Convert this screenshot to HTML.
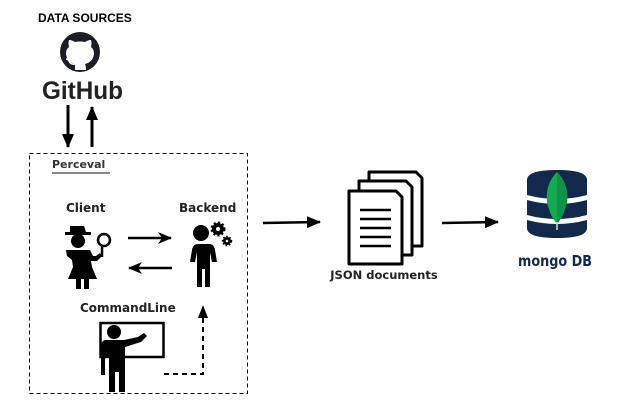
<!DOCTYPE html>
<html><head><meta charset="utf-8"><style>
html,body{margin:0;padding:0;background:#fff;}
svg{display:block;}
</style></head><body>
<svg width="637" height="407" viewBox="0 0 637 407" xmlns="http://www.w3.org/2000/svg">
<defs>
<marker id="ah" markerWidth="14" markerHeight="12" refX="13" refY="6" orient="auto" markerUnits="userSpaceOnUse">
<path d="M0,0 L14,6 L0,12 L4,6 Z" fill="#000"/></marker>
<marker id="ah2" markerWidth="14" markerHeight="12" refX="13" refY="6" orient="auto" markerUnits="userSpaceOnUse">
<path d="M0,0 L14,6 L0,12 Z" fill="#000"/></marker>
</defs>
<text x="38" y="22" font-family="Liberation Sans, sans-serif" font-weight="bold" font-size="12">DATA SOURCES</text>
<!-- octocat -->
<circle cx="80" cy="52" r="20" fill="#1b1f23"/>
<path d="M75,70 v-6 q-8,-2 -9,-10 q0,-5 3,-7 q-1,-4 0,-7 q3,0 6,2 q5,-1 10,0 q3,-2 6,-2 q1,3 0,7 q3,2 3,7 q-1,8 -9,10 q1,2 1,6 Z" fill="#fff"/>
<path d="M75,64 q-4,1 -6,-3 q-1,-2 -3,-2" stroke="#fff" stroke-width="1.6" fill="none"/>
<text x="42" y="99" font-family="Liberation Sans, sans-serif" font-weight="bold" font-size="25" fill="#222" textLength="81" lengthAdjust="spacingAndGlyphs">GitHub</text>
<line x1="68" y1="105" x2="68" y2="147" stroke="#000" stroke-width="3" marker-end="url(#ah2)"/>
<line x1="92" y1="147" x2="92" y2="107" stroke="#000" stroke-width="3" marker-end="url(#ah2)"/>
<rect x="29.5" y="153.5" width="218" height="240" fill="none" stroke="#000" stroke-dasharray="4,3"/>
<text x="52" y="168" font-family="DejaVu Sans, sans-serif" font-weight="bold" font-size="11" fill="#333">Perceval</text>
<line x1="52" y1="173" x2="110" y2="173" stroke="#666" stroke-width="1.5"/>
<text x="66" y="212" font-family="DejaVu Sans, sans-serif" font-weight="bold" font-size="12" fill="#222">Client</text>
<text x="179" y="212" font-family="DejaVu Sans, sans-serif" font-weight="bold" font-size="12" fill="#222">Backend</text>
<!-- client -->
<g fill="#000">
<path d="M70,226 h14 l2,6 h5 v3 h-26 v-3 h5 z"/>
<circle cx="78" cy="241" r="7"/>
<path d="M66,250 h24 l3,6 h3 l4,-3 l2,3 l-5,5 h-6 l1,6 l5,12 h-8 v10 h-5 v-10 h-3 v10 h-5 v-10 h-8 l5,-12 l-1,-7 l-5,-4 z"/>
</g>
<circle cx="104" cy="240" r="6" fill="none" stroke="#000" stroke-width="2.5"/>
<line x1="102" y1="246" x2="102" y2="257" stroke="#000" stroke-width="2.5"/>
<line x1="128" y1="238" x2="171" y2="238" stroke="#000" stroke-width="2.5" marker-end="url(#ah)"/>
<line x1="172" y1="268" x2="129" y2="268" stroke="#000" stroke-width="2.5" marker-end="url(#ah)"/>
<!-- backend -->
<g fill="#000">
<circle cx="201" cy="233" r="8"/>
<path d="M193,244 h16 q5,0 6,6 l2,12 h-5 l-2,-10 v35 h-5 v-18 h-3 v18 h-5 v-35 l-2,10 h-5 l2,-12 q1,-6 6,-6 z"/>
<circle cx="218" cy="229" r="6" stroke="#000" stroke-width="3" stroke-dasharray="2,2"/>
<circle cx="218" cy="229" r="5.5"/>
<circle cx="227" cy="241" r="4" stroke="#000" stroke-width="2.5" stroke-dasharray="1.5,1.5"/>
</g>
<circle cx="218" cy="229" r="2" fill="#fff"/><circle cx="227" cy="241" r="1.3" fill="#fff"/>
<text x="80" y="312" font-family="DejaVu Sans, sans-serif" font-weight="bold" font-size="12" fill="#222">CommandLine</text>
<!-- teacher -->
<rect x="100.5" y="323" width="63" height="34" fill="none" stroke="#000" stroke-width="2.5"/>
<g fill="#000">
<circle cx="114" cy="332" r="7"/>
<path d="M102,340 h22 l14,-3 l6,-4 l3,3 l-6,6 l-16,5 v45 h-6 v-20 h-4 v20 h-6 v-35 h-4 v18 h-4 v-28 q0,-7 5,-7 z"/>
</g>
<path d="M164,374 H203 V307" fill="none" stroke="#000" stroke-width="2" stroke-dasharray="5,4"/>
<path d="M198,318 L203,305 L208,318 Z" fill="#000"/>
<line x1="263" y1="223" x2="320" y2="222" stroke="#000" stroke-width="2.5" marker-end="url(#ah2)"/>
<!-- docs -->
<g stroke="#000" stroke-width="3" fill="#fff" stroke-linejoin="round">
<path d="M369,172 h47 l6,6 v68 h-53 z"/>
<path d="M359,181 h47 l6,6 v68 h-53 z"/>
<path d="M349,191 h47 l6,6 v67 h-53 z"/>
</g>
<g stroke="#000" stroke-width="2.5">
<line x1="360" y1="210" x2="391" y2="210"/><line x1="360" y1="219" x2="391" y2="219"/>
<line x1="360" y1="228" x2="391" y2="228"/><line x1="360" y1="237" x2="391" y2="237"/>
<line x1="360" y1="246" x2="391" y2="246"/>
</g>
<text x="384" y="279" text-anchor="middle" font-family="DejaVu Sans, sans-serif" font-weight="bold" font-size="11.5" fill="#222">JSON documents</text>
<line x1="442" y1="223" x2="498" y2="222" stroke="#000" stroke-width="2.5" marker-end="url(#ah2)"/>
<!-- mongo -->
<g fill="#13294b">
<path d="M527,180 q0,-10 30,-10 q30,0 30,10 v15 q-30,8 -60,0 z"/>
<path d="M527,200 q30,8 60,0 v15 q-30,8 -60,0 z"/>
<path d="M527,220 q30,8 60,0 v8 q0,10 -30,10 q-30,0 -30,-10 z"/>
</g>
<path d="M557,172 q12,12 10,30 q-3,14 -10,22 q-7,-8 -10,-22 q-2,-18 10,-30 z" fill="#13aa52"/>
<path d="M557,172 q12,12 10,30 q-3,14 -10,22 z" fill="#10924a"/>
<line x1="557" y1="222" x2="557" y2="230" stroke="#ddd" stroke-width="1.5"/>
<text x="555" y="266" text-anchor="middle" font-family="DejaVu Sans, sans-serif" font-weight="bold" font-size="15" fill="#13294b" textLength="74" lengthAdjust="spacingAndGlyphs">mongo DB</text>
</svg>
</body></html>
